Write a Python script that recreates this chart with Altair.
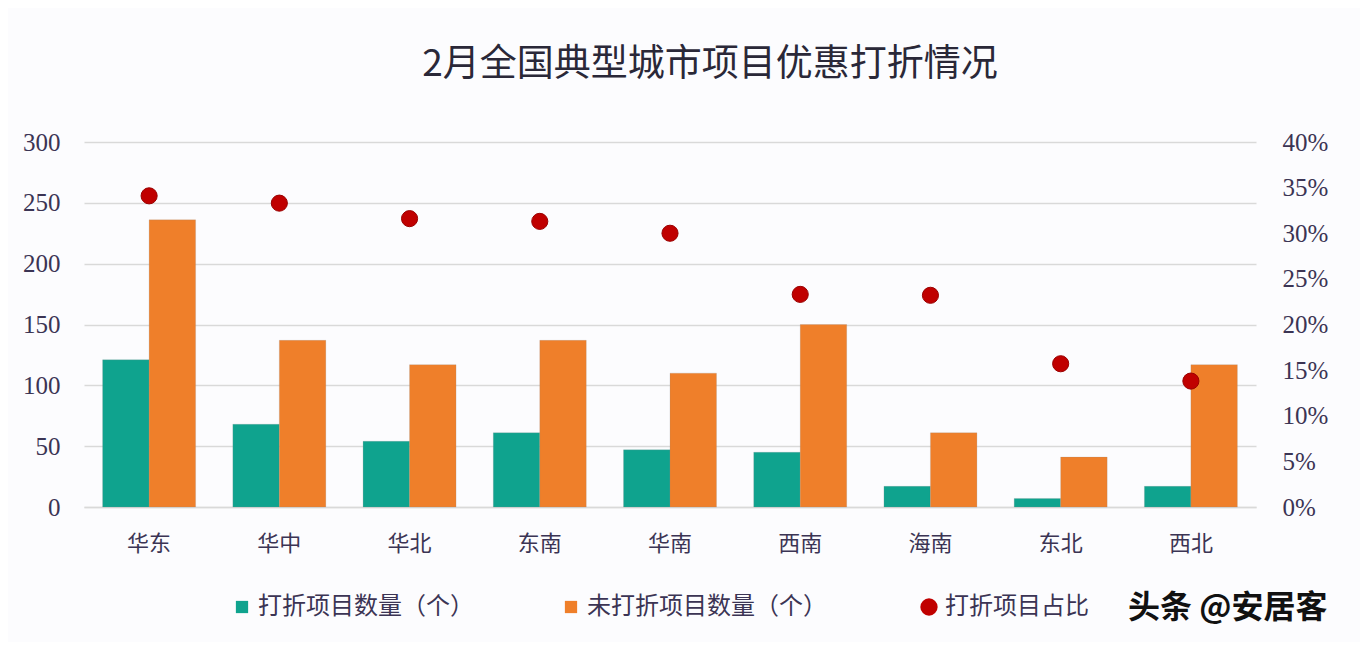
import altair as alt
import pandas as pd

categories = ["华东", "华中", "华北", "东南", "华南", "西南", "海南", "东北", "西北"]
discounted = [121, 68, 54, 61, 47, 45, 17, 7, 17]
undiscounted = [236, 137, 117, 137, 110, 150, 61, 41, 117]
ratio = [0.341, 0.333, 0.316, 0.313, 0.300, 0.233, 0.232, 0.157, 0.138]
series_names = ["打折项目数量（个）", "未打折项目数量（个）"]
ratio_name = "打折项目占比"
left_ticks = [0, 50, 100, 150, 200, 250, 300]
right_ticks = [0, 0.05, 0.10, 0.15, 0.20, 0.25, 0.30, 0.35, 0.40]
watermark = "头条 @安居客"

rows = []
for c, d, u in zip(categories, discounted, undiscounted):
    rows.append({"region": c, "series": series_names[0], "value": d})
    rows.append({"region": c, "series": series_names[1], "value": u})
bars_df = pd.DataFrame(rows)
pts_df = pd.DataFrame({"region": categories, "ratio": ratio, "label": ratio_name})
wm_df = pd.DataFrame({"t": [watermark]})

CJK = "Noto Sans CJK SC"
NUM = "Liberation Serif"
TXT = "#3b3454"

x_enc = alt.X(
    "region:N",
    sort=categories,
    scale=alt.Scale(paddingInner=0.286, paddingOuter=0.143),
    axis=alt.Axis(
        title=None, labelAngle=0, labelFont=CJK, labelFontSize=22,
        labelColor=TXT, labelPadding=26, ticks=False,
        domainColor="#d9d9d9", domainWidth=1.5,
    ),
)

bars = alt.Chart(bars_df).mark_bar(strokeWidth=0.6, stroke="#8a8a8a", strokeOpacity=0.35).encode(
    x=x_enc,
    xOffset=alt.XOffset("series:N", sort=series_names, scale=alt.Scale(paddingInner=0, paddingOuter=0)),
    y=alt.Y(
        "value:Q",
        scale=alt.Scale(domain=[0, 300], nice=False),
        axis=alt.Axis(
            title=None, values=left_ticks, orient="left", grid=True,
            gridColor="#d9d9d9", gridWidth=1.5, domain=False, ticks=False,
            labelFont=NUM, labelFontSize=25, labelColor=TXT, labelPadding=24,
        ),
    ),
    color=alt.Color(
        "series:N",
        sort=series_names,
        scale=alt.Scale(domain=series_names, range=["#0fa38e", "#ef7f2a"]),
        legend=alt.Legend(
            title=None, orient="none", legendX=146, legendY=453,
            direction="horizontal", symbolType="square", symbolSize=150,
            symbolStrokeWidth=0, labelFont=CJK, labelFontSize=24,
            labelColor=TXT, columnPadding=85, labelOffset=4, labelLimit=400,
        ),
    ),
)

points = alt.Chart(pts_df).mark_point(filled=True, size=260, opacity=1,
                                       stroke="#9a0000", strokeWidth=1).encode(
    x=alt.X("region:N", sort=categories),
    y=alt.Y(
        "ratio:Q",
        scale=alt.Scale(domain=[0, 0.4], nice=False),
        axis=alt.Axis(
            title=None, values=right_ticks, format=".0%", orient="right",
            grid=False, domain=False, ticks=False, labelFont=NUM,
            labelFontSize=25, labelColor=TXT, labelPadding=26,
        ),
    ),
    color=alt.Color(
        "label:N",
        scale=alt.Scale(domain=[ratio_name], range=["#c00000"]),
        legend=alt.Legend(
            title=None, orient="none", legendX=833, legendY=453,
            direction="horizontal", symbolType="circle", symbolSize=300,
            symbolStrokeWidth=0, labelFont=CJK, labelFontSize=24,
            labelColor=TXT, labelOffset=4, labelLimit=400,
        ),
    ),
)

wm = alt.Chart(wm_df).mark_text(
    font=CJK, fontSize=32, color="#111111", align="left", baseline="middle", fontWeight="bold"
).encode(text="t:N", x=alt.value(1044), y=alt.value(466))

chart = (
    alt.layer(bars, points, wm)
    .resolve_scale(y="independent", color="independent")
    .properties(
        width=1172,
        height=365,
        autosize=alt.AutoSizeParams(type="none"),
        padding={"left": 76, "top": 134, "right": 104, "bottom": 135},
        background="#fcfcfe",
        title=alt.TitleParams(
            "2月全国典型城市项目优惠打折情况", font=CJK, fontSize=37,
            fontWeight="normal", color="#2a2838", anchor="middle",
            offset=46, dx=40,
        ),
    )
    .configure_view(stroke=None)
)

chart.save("out.html", embed_options={"renderer": "svg", "actions": False})
